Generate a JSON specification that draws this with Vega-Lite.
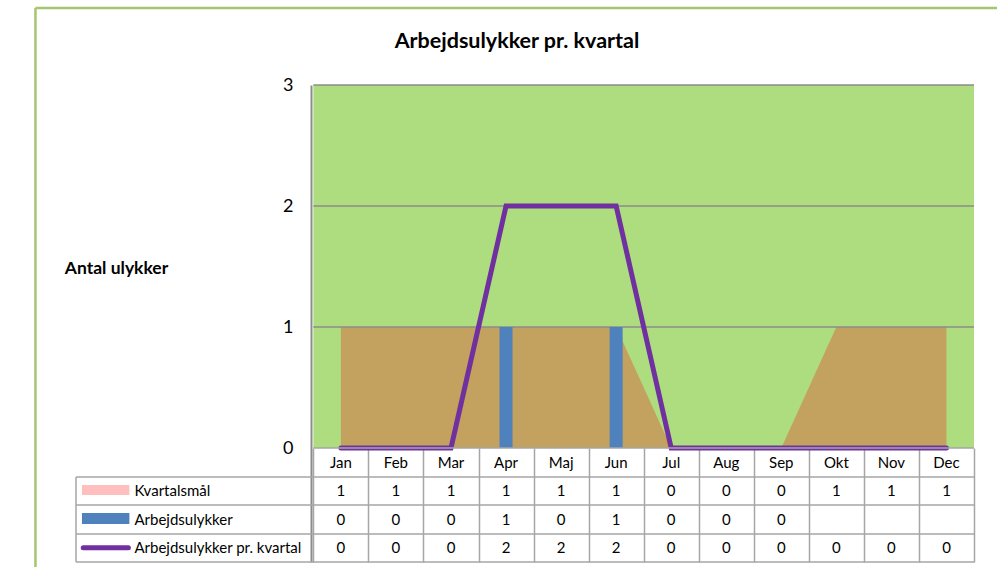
{
  "$schema": "https://vega.github.io/schema/vega-lite/v6.json",
  "width": 908,
  "height": 477,
  "autosize": {"type": "none"},
  "padding": {"left": 71, "top": 85, "right": 18, "bottom": 5},
  "background": "white",
  "config": {
    "view": {"stroke": null},
    "font": "Lato",
    "text": {"font": "Lato", "fontSize": 15, "color": "black"}
  },
  "title": {
    "text": "Arbejdsulykker pr. kvartal",
    "font": "Lato",
    "fontSize": 21.5,
    "fontWeight": "bold",
    "color": "black",
    "anchor": "middle",
    "frame": "group",
    "baseline": "alphabetic",
    "dx": -8,
    "offset": -63
  },
  "data": {
    "values": [
      {"m": 1, "month": "Jan", "kvartalsmaal": 1, "ulykker": 0, "kvartal": 0},
      {"m": 2, "month": "Feb", "kvartalsmaal": 1, "ulykker": 0, "kvartal": 0},
      {"m": 3, "month": "Mar", "kvartalsmaal": 1, "ulykker": 0, "kvartal": 0},
      {"m": 4, "month": "Apr", "kvartalsmaal": 1, "ulykker": 1, "kvartal": 2},
      {"m": 5, "month": "Maj", "kvartalsmaal": 1, "ulykker": 0, "kvartal": 2},
      {"m": 6, "month": "Jun", "kvartalsmaal": 1, "ulykker": 1, "kvartal": 2},
      {"m": 7, "month": "Jul", "kvartalsmaal": 0, "ulykker": 0, "kvartal": 0},
      {"m": 8, "month": "Aug", "kvartalsmaal": 0, "ulykker": 0, "kvartal": 0},
      {"m": 9, "month": "Sep", "kvartalsmaal": 0, "ulykker": 0, "kvartal": 0},
      {"m": 10, "month": "Okt", "kvartalsmaal": 1, "ulykker": null, "kvartal": 0},
      {"m": 11, "month": "Nov", "kvartalsmaal": 1, "ulykker": null, "kvartal": 0},
      {"m": 12, "month": "Dec", "kvartalsmaal": 1, "ulykker": null, "kvartal": 0}
    ]
  },
  "layer": [
    {
      "data": {"values": [{}]},
      "mark": {"type": "rect", "color": "#ADDD7E"},
      "encoding": {
        "x": {
          "datum": 0.5,
          "type": "quantitative",
          "scale": {"domain": [-3.8114, 12.5], "nice": false, "zero": false},
          "axis": {
            "orient": "bottom",
            "offset": -114,
            "values": [0.5, 1.5, 2.5, 3.5, 4.5, 5.5, 6.5, 7.5, 8.5, 9.5, 10.5, 11.5, 12.5],
            "labels": false,
            "domain": false,
            "grid": false,
            "ticks": true,
            "tickSize": 114,
            "tickColor": "#A6A6A6",
            "tickWidth": 1.5,
            "title": null
          }
        },
        "x2": {"datum": 12.5},
        "y": {
          "datum": 0,
          "type": "quantitative",
          "scale": {"domain": [-0.9421, 3], "nice": false, "zero": false},
          "axis": {
            "orient": "left",
            "offset": -240,
            "values": [0, 1, 2, 3],
            "format": "d",
            "grid": false,
            "ticks": false,
            "tickSize": 0,
            "labelPadding": 18,
            "labelFont": "Lato",
            "labelFontSize": 18,
            "labelColor": "black",
            "domain": true,
            "domainColor": "#8C8C8C",
            "domainWidth": 2,
            "title": "Antal ulykker",
            "titleAngle": 0,
            "titleX": -195,
            "titleY": 183,
            "titleAlign": "center",
            "titleBaseline": "middle",
            "titleFont": "Lato",
            "titleFontSize": 17.5,
            "titleFontWeight": "bold",
            "titleColor": "black"
          }
        },
        "y2": {"datum": 3}
      }
    },
    {
      "mark": {"type": "area", "color": "#C2A25E", "interpolate": "linear"},
      "encoding": {
        "x": {"field": "m", "type": "quantitative"},
        "y": {"field": "kvartalsmaal", "type": "quantitative"}
      }
    },
    {
      "data": {"values": [{"g": 1}, {"g": 2}, {"g": 3}]},
      "mark": {"type": "rule", "color": "#8C8C8C", "strokeWidth": 1.5},
      "encoding": {
        "x": {"datum": 0.5},
        "x2": {"datum": 12.5},
        "y": {"field": "g", "type": "quantitative"}
      }
    },
    {
      "mark": {"type": "bar", "color": "#4F81BD", "size": 13},
      "encoding": {
        "x": {"field": "m", "type": "quantitative"},
        "y": {"field": "ulykker", "type": "quantitative"}
      }
    },
    {
      "mark": {"type": "line", "color": "#7030A0", "strokeWidth": 5, "strokeCap": "round"},
      "encoding": {
        "x": {"field": "m", "type": "quantitative"},
        "y": {"field": "kvartal", "type": "quantitative"}
      }
    },
    {
      "data": {"values": [{}]},
      "mark": {"type": "rule", "color": "#A6A6A6", "strokeWidth": 1.5},
      "encoding": {"x": {"datum": 0.5}, "x2": {"datum": 12.5}, "y": {"datum": 0}}
    },
    {
      "data": {"values": [{}]},
      "mark": {"type": "rule", "color": "#A6A6A6", "strokeWidth": 1.5},
      "encoding": {"x": {"datum": -3.8114}, "x2": {"datum": 12.5}, "y": {"datum": -0.2397}}
    },
    {
      "data": {"values": [{}]},
      "mark": {"type": "rule", "color": "#A6A6A6", "strokeWidth": 1.5},
      "encoding": {"x": {"datum": -3.8114}, "x2": {"datum": 12.5}, "y": {"datum": -0.4711}}
    },
    {
      "data": {"values": [{}]},
      "mark": {"type": "rule", "color": "#A6A6A6", "strokeWidth": 1.5},
      "encoding": {"x": {"datum": -3.8114}, "x2": {"datum": 12.5}, "y": {"datum": -0.7107}}
    },
    {
      "data": {"values": [{}]},
      "mark": {"type": "rule", "color": "#A6A6A6", "strokeWidth": 1.5},
      "encoding": {"x": {"datum": -3.8114}, "x2": {"datum": 12.5}, "y": {"datum": -0.9421}}
    },
    {
      "data": {"values": [{}]},
      "mark": {"type": "rule", "color": "#A6A6A6", "strokeWidth": 1.5},
      "encoding": {"x": {"datum": -3.8114}, "y": {"datum": -0.2397}, "y2": {"datum": -0.9421}}
    },
    {
      "mark": {"type": "text", "baseline": "middle", "align": "center"},
      "encoding": {
        "x": {"field": "m", "type": "quantitative"},
        "y": {"datum": -0.124},
        "text": {"field": "month", "type": "nominal"}
      }
    },
    {
      "mark": {"type": "text", "baseline": "middle", "align": "center"},
      "encoding": {
        "x": {"field": "m", "type": "quantitative"},
        "y": {"datum": -0.3554},
        "text": {"field": "kvartalsmaal", "type": "nominal"}
      }
    },
    {
      "transform": [{"filter": "isValid(datum.ulykker)"}],
      "mark": {"type": "text", "baseline": "middle", "align": "center"},
      "encoding": {
        "x": {"field": "m", "type": "quantitative"},
        "y": {"datum": -0.5909},
        "text": {"field": "ulykker", "type": "nominal"}
      }
    },
    {
      "mark": {"type": "text", "baseline": "middle", "align": "center"},
      "encoding": {
        "x": {"field": "m", "type": "quantitative"},
        "y": {"datum": -0.8264},
        "text": {"field": "kvartal", "type": "nominal"}
      }
    },
    {
      "data": {"values": [{}]},
      "mark": {"type": "rect", "color": "#FFBFBF"},
      "encoding": {"x": {"datum": -3.7036}, "x2": {"datum": -2.8413}, "y": {"datum": -0.3058}, "y2": {"datum": -0.3884}}
    },
    {
      "data": {"values": [{}]},
      "mark": {"type": "rect", "color": "#4F81BD"},
      "encoding": {"x": {"datum": -3.7036}, "x2": {"datum": -2.8413}, "y": {"datum": -0.5372}, "y2": {"datum": -0.6281}}
    },
    {
      "data": {"values": [{}]},
      "mark": {"type": "rule", "color": "#7030A0", "strokeWidth": 5, "strokeCap": "round"},
      "encoding": {"x": {"datum": -3.68}, "x2": {"datum": -2.86}, "y": {"datum": -0.824}}
    },
    {
      "data": {"values": [{}]},
      "mark": {"type": "text", "text": "Kvartalsmål", "align": "left", "baseline": "middle"},
      "encoding": {"x": {"datum": -2.75}, "y": {"datum": -0.3554}}
    },
    {
      "data": {"values": [{}]},
      "mark": {"type": "text", "text": "Arbejdsulykker", "align": "left", "baseline": "middle"},
      "encoding": {"x": {"datum": -2.75}, "y": {"datum": -0.5909}}
    },
    {
      "data": {"values": [{}]},
      "mark": {"type": "text", "text": "Arbejdsulykker pr. kvartal", "align": "left", "baseline": "middle"},
      "encoding": {"x": {"datum": -2.75}, "y": {"datum": -0.8264}}
    },
    {
      "data": {"values": [{}]},
      "mark": {"type": "rule", "color": "#A5C66F", "strokeWidth": 2.5},
      "encoding": {"x": {"datum": -4.548}, "y": {"datum": 3.636}, "y2": {"datum": -1.3}}
    },
    {
      "data": {"values": [{}]},
      "mark": {"type": "rule", "color": "#A5C66F", "strokeWidth": 2.5},
      "encoding": {"x": {"datum": -4.548}, "x2": {"datum": 13.5}, "y": {"datum": 3.636}}
    }
  ]
}
